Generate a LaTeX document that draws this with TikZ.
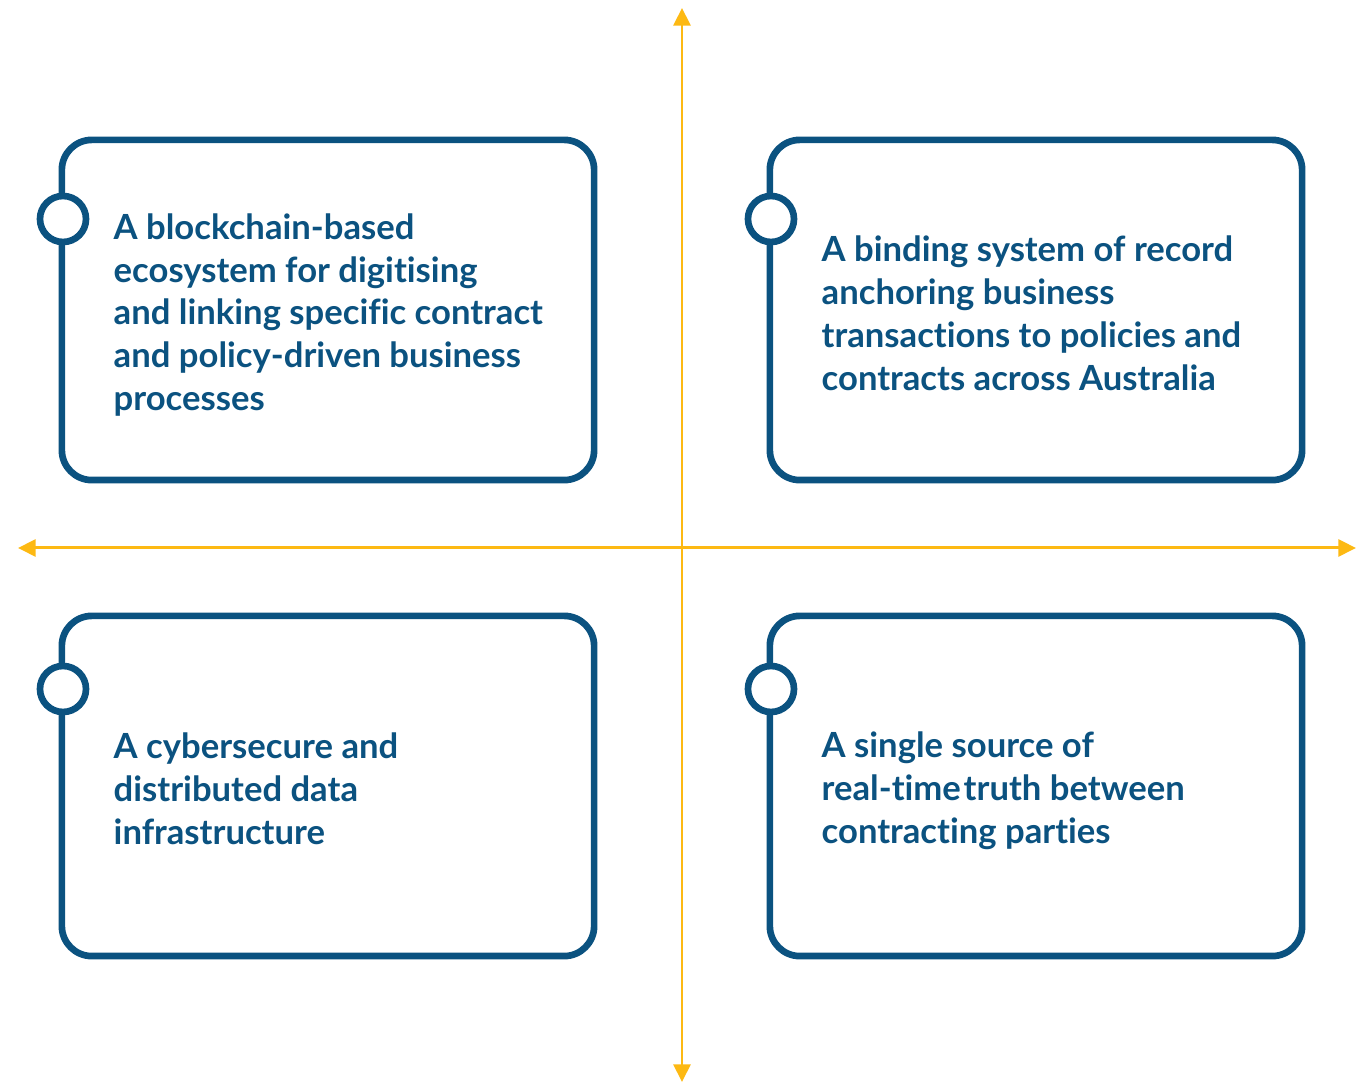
\documentclass[tikz,border=0pt]{standalone}
\usepackage{fontspec}
\setmainfont[Ligatures=NoCommon]{Lato}
\usepackage{xcolor}
\usetikzlibrary{shapes, arrows.meta, positioning}
\definecolor{navy}{HTML}{0B5280}
\definecolor{amber}{HTML}{FDB913}

\begin{document}
\begin{tikzpicture}[x=0.01cm, y=-0.01cm,
            box/.style={draw=navy, line width=1.9pt, rectangle, rounded corners=0.3cm, minimum width=5.32cm, minimum height=3.4cm},
            dot/.style={draw=navy, line width=1.9pt, circle, fill=white, minimum size=0.46cm, inner sep=0pt},
            txt/.style={anchor=west, inner sep=0pt, align=left, text=navy, font=\fontsize{9.85}{12.2}\selectfont\bfseries},
            axis/.style={{Triangle[length=5pt,width=4.8pt]}-{Triangle[length=5pt,width=4.8pt]}, amber, line width=0.85pt}]

            \useasboundingbox (0,0) rectangle (1356,1083);

            % axes
            \coordinate (ytop) at (682,8);
            \coordinate (ybot) at (682,1082);
            \coordinate (xleft) at (18,548);
            \coordinate (xright) at (1356,548);
            \draw[axis] (ybot) -- (ytop);
            \draw[axis] (xleft) -- (xright);

            % boxes
            \node[box] (b1) at (328,310) {};
            \node[box] (b2) at (1036,310) {};
            \node[box] (b3) at (328,786) {};
            \node[box] (b4) at (1036,786) {};

            % markers
            \node[dot] (d1) at (63,219) {};
            \node[dot] (d2) at (771,219) {};
            \node[dot] (d3) at (63,689) {};
            \node[dot] (d4) at (771,689) {};

            % labels
            \node[txt] (t1) at (113,315) {A blockchain-based\\ecosystem for digitising\\and linking specific contract\\and policy-driven business\\processes};
            \node[txt] (t2) at (821,313) {A binding system of record\\anchoring business\\transactions to policies and\\contracts across Australia};
            \node[txt] (t3) at (113,789) {A cybersecure and\\distributed data\\infrastructure};
            \node[txt] (t4) at (821,791) {A single source of\\real-time\hspace{0.08em}truth between\\contracting parties};
        \end{tikzpicture}
\end{document}
